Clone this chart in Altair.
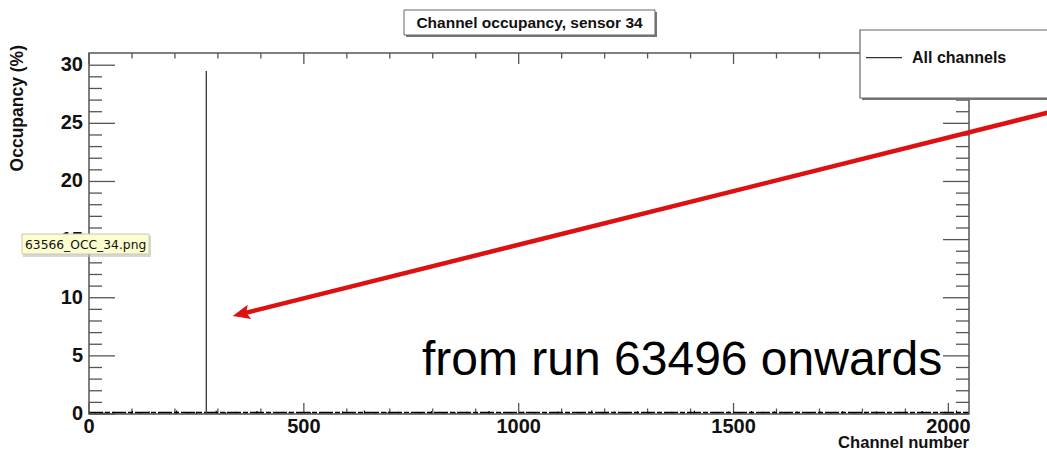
import altair as alt
import pandas as pd

# plot-area size in pixels and axis ranges
W, H = 880, 361
X_MAX, Y_MAX = 2048, 31.05

# histogram contents: one hot channel plus the low noise floor
spike_channel = [273]
spike_occupancy = [29.5]

noise_channel = [12, 35, 58, 84, 101, 118, 140, 162, 188, 204, 231, 250, 296, 318,
                 342, 366, 391, 417, 440, 466, 488, 515, 537, 562, 590, 614, 641,
                 667, 693, 720, 748, 771, 797, 826, 852, 879, 903, 931, 958, 984,
                 1012, 1039, 1063, 1091, 1117, 1144, 1170, 1196, 1223, 1250, 1277,
                 1303, 1330, 1356, 1383, 1409, 1436, 1462, 1489, 1515, 1542, 1568,
                 1595, 1621, 1648, 1674, 1701, 1727, 1754, 1780, 1807, 1833, 1860,
                 1886, 1913, 1939, 1966, 1992, 2019, 2040]
noise_occupancy = [0.15, 0.12, 0.2, 0.1, 0.25, 0.18, 0.22, 0.12, 0.15, 0.3, 0.1, 0.2,
                   0.28, 0.14, 0.2, 0.12, 0.25, 0.1, 0.16, 0.2, 0.12, 0.18, 0.1, 0.14,
                   0.22, 0.1, 0.3, 0.12, 0.16, 0.2, 0.1, 0.18, 0.24, 0.12, 0.15, 0.2,
                   0.1, 0.26, 0.12, 0.18, 0.2, 0.14, 0.1, 0.22, 0.16, 0.12, 0.3, 0.14,
                   0.2, 0.1, 0.24, 0.16, 0.12, 0.2, 0.14, 0.28, 0.12, 0.18, 0.22, 0.1,
                   0.26, 0.2, 0.24, 0.16, 0.22, 0.18, 0.2, 0.14, 0.24, 0.12, 0.18,
                   0.22, 0.1, 0.2, 0.16, 0.26, 0.12, 0.2, 0.3, 0.14]
noise_floor = [0.12]

# axis ticks and labels
y_major = [0, 5, 10, 15, 20, 25, 30]
y_minor = [v for v in range(1, 31) if v % 5]
x_major = [0, 500, 1000, 1500, 2000]
x_minor = [v for v in range(100, 2048, 100) if v % 500]

# annotation arrow (tail outside the frame, head near the hot channel)
arrow_channel = [2235, 354]
arrow_occupancy = [25.95, 8.6]
note_channel = [775]
note_occupancy = [3.38]

FONT = "Liberation Sans"
AX = "#555555"

xs = alt.Scale(domain=[0, X_MAX], nice=False, zero=False)
ys = alt.Scale(domain=[0, Y_MAX], nice=False, zero=False)
one = pd.DataFrame({"k": [0]})


def xq(field):
    return alt.X(f"{field}:Q", scale=xs, axis=None)


def yq(field):
    return alt.Y(f"{field}:Q", scale=ys, axis=None)


ymaj = pd.DataFrame({"v": y_major, "t": [str(v) for v in y_major]})
ymin = pd.DataFrame({"v": y_minor})
xmaj = pd.DataFrame({"v": x_major, "t": [str(v) for v in x_major]})
xmin = pd.DataFrame({"v": x_minor})

layers = []

# ticks on all four sides, pointing inward
for x0, x1 in [(0, 26), (W - 26, W)]:
    layers.append(alt.Chart(ymaj).mark_rule(color=AX, strokeWidth=1.3).encode(
        y=yq("v"), x=alt.value(x0), x2=alt.value(x1)))
for x0, x1 in [(0, 13), (W - 13, W)]:
    layers.append(alt.Chart(ymin).mark_rule(color=AX, strokeWidth=1.3).encode(
        y=yq("v"), x=alt.value(x0), x2=alt.value(x1)))
for y0, y1 in [(0, 11), (H - 11, H)]:
    layers.append(alt.Chart(xmaj).mark_rule(color=AX, strokeWidth=1.3).encode(
        x=xq("v"), y=alt.value(y0), y2=alt.value(y1)))
for y0, y1 in [(0, 5.5), (H - 5.5, H)]:
    layers.append(alt.Chart(xmin).mark_rule(color=AX, strokeWidth=1.3).encode(
        x=xq("v"), y=alt.value(y0), y2=alt.value(y1)))

# histogram
noise = pd.DataFrame({"ch": noise_channel, "occ": noise_occupancy})
layers.append(alt.Chart(noise).mark_rule(color="#000000", strokeWidth=1.2).encode(
    x=xq("ch"), y=yq("occ"), y2=alt.datum(0)))
floor = pd.DataFrame({"a": [0], "b": [X_MAX], "occ": noise_floor})
layers.append(alt.Chart(floor).mark_rule(color="#000000", strokeWidth=1.6,
                                         strokeDash=[14, 2, 5, 2]).encode(
    x=xq("a"), x2="b:Q", y=yq("occ")))
spike = pd.DataFrame({"ch": spike_channel, "occ": spike_occupancy})
layers.append(alt.Chart(spike).mark_rule(color="#444444", strokeWidth=1.4).encode(
    x=xq("ch"), y=yq("occ"), y2=alt.datum(0)))

# frame
layers.append(alt.Chart(one).mark_rect(fillOpacity=0, stroke=AX, strokeWidth=1.5).encode(
    x=alt.value(0), x2=alt.value(W), y=alt.value(0), y2=alt.value(H)))

# tick labels
layers.append(alt.Chart(ymaj).mark_text(font=FONT, fontWeight="bold", fontSize=20,
                                        align="right", baseline="middle", color="#111111").encode(
    y=yq("v"), x=alt.value(-6), text="t:N"))
layers.append(alt.Chart(xmaj).mark_text(font=FONT, fontWeight="bold", fontSize=20,
                                        align="center", baseline="middle", color="#111111").encode(
    x=xq("v"), y=alt.value(H + 13), text="t:N"))

# axis titles
layers.append(alt.Chart(one).mark_text(text="Channel number", font=FONT, fontWeight="bold",
                                       fontSize=16.6, align="right", baseline="middle",
                                       color="#111111").encode(
    x=alt.value(W), y=alt.value(H + 28.5)))
layers.append(alt.Chart(one).mark_text(text="Occupancy (%)", font=FONT, fontWeight="bold",
                                       fontSize=17.5, align="right", baseline="middle", angle=270,
                                       color="#111111").encode(
    x=alt.value(-71), y=alt.value(-8)))

# title box with drop shadow
layers.append(alt.Chart(one).mark_rect(fill="#777777").encode(
    x=alt.value(317), x2=alt.value(568), y=alt.value(-41), y2=alt.value(-16)))
layers.append(alt.Chart(one).mark_rect(fill="white", stroke="#666666", strokeWidth=1).encode(
    x=alt.value(315), x2=alt.value(566), y=alt.value(-43), y2=alt.value(-18)))
layers.append(alt.Chart(one).mark_text(text="Channel occupancy, sensor 34", font=FONT,
                                       fontWeight="bold", fontSize=15.5, align="center",
                                       baseline="middle", color="#111111").encode(
    x=alt.value(440.5), y=alt.value(-30.5)))

# legend box
layers.append(alt.Chart(one).mark_rect(fill="#777777").encode(
    x=alt.value(773), x2=alt.value(975), y=alt.value(-21), y2=alt.value(47)))
layers.append(alt.Chart(one).mark_rect(fill="white", stroke="#666666", strokeWidth=1.2).encode(
    x=alt.value(771), x2=alt.value(975), y=alt.value(-23), y2=alt.value(45)))
layers.append(alt.Chart(one).mark_rule(color="#333333", strokeWidth=1.2).encode(
    x=alt.value(777), x2=alt.value(813), y=alt.value(4.7)))
layers.append(alt.Chart(one).mark_text(text="All channels", font=FONT, fontWeight="bold",
                                       fontSize=16, align="left", baseline="middle",
                                       color="#111111").encode(
    x=alt.value(823), y=alt.value(5)))

# file-name tooltip
layers.append(alt.Chart(one).mark_rect(fill="#bbbbbb", opacity=0.6).encode(
    x=alt.value(-66), x2=alt.value(62), y=alt.value(183), y2=alt.value(204)))
layers.append(alt.Chart(one).mark_rect(fill="#fdfdcf", stroke="#c8c8b0", strokeWidth=1).encode(
    x=alt.value(-67), x2=alt.value(60), y=alt.value(181), y2=alt.value(201)))
layers.append(alt.Chart(one).mark_text(text="63566_OCC_34.png", font="DejaVu Sans",
                                       fontSize=12.3, align="left", baseline="middle",
                                       color="#111111").encode(
    x=alt.value(-64), y=alt.value(192)))

# annotation text and arrow
note = pd.DataFrame({"ch": note_channel, "occ": note_occupancy})
layers.append(alt.Chart(note).mark_text(text="from run 63496 onwards", font=FONT,
                                        fontSize=48, align="left", baseline="alphabetic",
                                        color="#000000").encode(
    x=xq("ch"), y=yq("occ")))
arrow = pd.DataFrame({"ch": arrow_channel, "occ": arrow_occupancy, "o": [0, 1]})
layers.append(alt.Chart(arrow).mark_line(color="#dd1111", strokeWidth=4.5).encode(
    x=xq("ch"), y=yq("occ"), order="o:Q"))
head = arrow.iloc[[1]]
layers.append(alt.Chart(head).mark_point(
    shape="M -1 0 L 1 -0.85 L 0.6 0 L 1 0.85 Z", size=300, filled=True,
    color="#dd1111", opacity=1, angle=346).encode(x=xq("ch"), y=yq("occ")))

chart = alt.layer(*layers).properties(
    width=W, height=H,
    autosize=alt.AutoSizeParams(type="none"),
    padding={"left": 89, "top": 53, "right": 78, "bottom": 37},
    background="white",
).configure_view(stroke=None)

chart.save("out.html", embed_options={"renderer": "svg", "actions": False})
